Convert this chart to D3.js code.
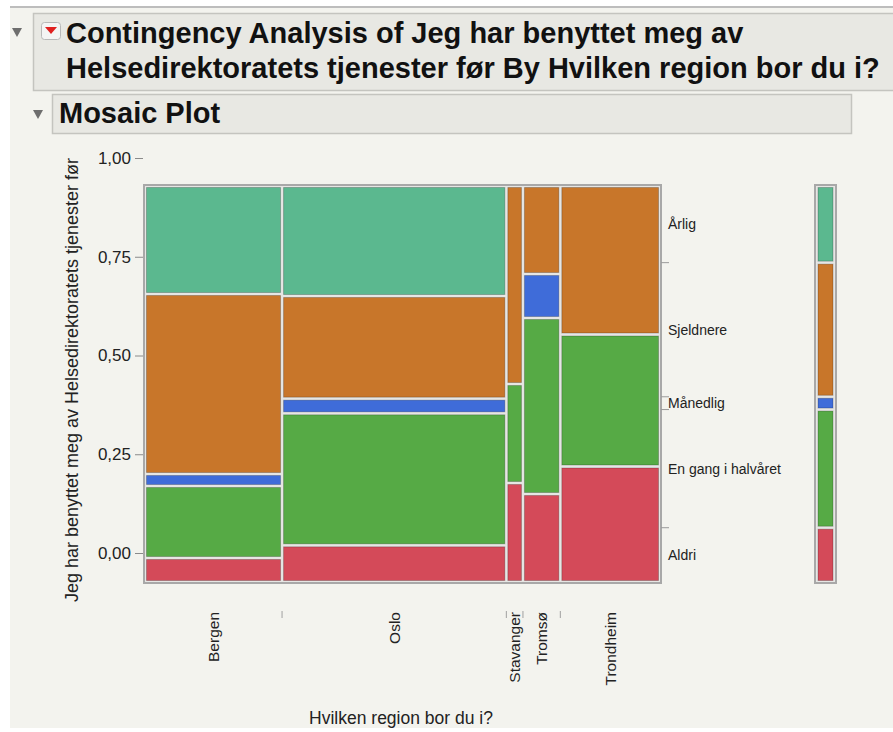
<!DOCTYPE html>
<html>
<head>
<meta charset="utf-8">
<script src="https://cdn.jsdelivr.net/npm/d3@7"></script>
<style>
  body { margin: 0; background: #ffffff; }
  text { font-family: "Liberation Sans", Arial, Helvetica, sans-serif; }
</style>
</head>
<body>
<div id="chart"></div>
<script>
//-------------------------------------
// data (counts read from the mosaic)
//-------------------------------------
var regions = ["Bergen", "Oslo", "Stavanger", "Tromsø", "Trondheim"];
// response levels, bottom to top
var levels = ["Aldri", "En gang i halvåret", "Månedlig", "Sjeldnere", "Årlig"];
var levelColors = ["#d44a59", "#56aa45", "#3f6cd9", "#c8762a", "#5bb88f"];

var aldri      = [2, 5, 1, 2, 7];
var halvaaret  = [6, 18, 1, 4, 8];
var maanedlig  = [1, 2, 0, 1, 0];
var sjeldnere  = [15, 14, 2, 2, 9];
var aarlig     = [9, 15, 0, 0, 0];

var yTicks = [0, 0.25, 0.5, 0.75, 1];

var counts = [aldri, halvaaret, maanedlig, sjeldnere, aarlig];

//-------------------------------------
// field
//-------------------------------------
var width = 893;
var height = 732;

var svg = d3.select("#chart")
  .append("svg")
  .attr("width", width)
  .attr("height", height);

// panel background
svg.append("rect")
  .attr("x", 10).attr("y", 7)
  .attr("width", width - 10).attr("height", 721)
  .style("fill", "#f3f3ee");
svg.append("line")
  .attr("x1", 10).attr("x2", width)
  .attr("y1", 7).attr("y2", 7)
  .style("stroke", "#bdbdbd").style("stroke-width", 2);

// header boxes
function headerBox(x, y, w, h) {
  svg.append("rect")
    .attr("x", x + 0.5).attr("y", y + 0.5)
    .attr("width", w).attr("height", h)
    .style("fill", "#e8e8e3")
    .style("stroke", "#c4c4bf")
    .style("stroke-width", 1.5);
}
function triangle(cx, cy) {
  svg.append("path")
    .attr("d", "M" + (cx - 5) + "," + (cy - 4) + "L" + (cx + 5) + "," + (cy - 4) + "L" + cx + "," + (cy + 5) + "Z")
    .style("fill", "#6e6e6e");
}

headerBox(33, 13, 880, 77);
triangle(17, 32);
svg.append("rect")
  .attr("x", 41.5).attr("y", 22.5).attr("width", 19).attr("height", 17).attr("rx", 3)
  .style("fill", "#f4f4f4").style("stroke", "#b8b8b8");
svg.append("path")
  .attr("d", "M45,27L57,27L51,34Z")
  .style("fill", "#e02020");

svg.append("text")
  .attr("x", 66).attr("y", 43)
  .style("font-size", "29px").style("font-weight", "bold").style("fill", "#111")
  .text("Contingency Analysis of Jeg har benyttet meg av");
svg.append("text")
  .attr("x", 66).attr("y", 78)
  .style("font-size", "29px").style("font-weight", "bold").style("fill", "#111")
  .text("Helsedirektoratets tjenester før By Hvilken region bor du i?");

headerBox(52, 94, 799, 39);
triangle(38, 114);
svg.append("text")
  .attr("x", 59).attr("y", 123)
  .style("font-size", "29px").style("font-weight", "bold").style("fill", "#111")
  .text("Mosaic Plot");

//-------------------------------------
// scales
//-------------------------------------
var totals = regions.map(function(r, i) {
  return d3.sum(counts, function(c) { return c[i]; });
});
var N = d3.sum(totals);
var xStart = d3.cumsum([0].concat(totals));

var x = d3.scaleLinear().domain([0, N]).range([145, 660]);
var y = d3.scaleLinear().domain([0, 1]).range([582, 186]);
// JMP's left axis is drawn shifted against the tiles
var yAxisScale = d3.scaleLinear().domain([0, 1]).range([553, 158]);

//-------------------------------------
// mosaic
//-------------------------------------
svg.append("rect")
  .attr("x", x(0) - 1).attr("y", y(1) - 1)
  .attr("width", x(N) - x(0) + 2).attr("height", y(0) - y(1) + 2)
  .style("fill", "#e6e6e4")
  .style("stroke", "#a8a8a8")
  .style("stroke-width", 2);

var cells = [];
regions.forEach(function(r, i) {
  var acc = 0;
  levels.forEach(function(l, j) {
    var p = counts[j][i] / totals[i];
    if (p > 0) {
      cells.push({ x0: xStart[i], x1: xStart[i + 1], p0: acc, p1: acc + p, color: levelColors[j] });
    }
    acc += p;
  });
});

svg.append("g").selectAll("rect")
  .data(cells)
  .enter()
  .append("rect")
  .attr("x", function(d) { return x(d.x0) + 1.5; })
  .attr("width", function(d) { return x(d.x1) - x(d.x0) - 3; })
  .attr("y", function(d) { return y(d.p1) + 1.5; })
  .attr("height", function(d) { return y(d.p0) - y(d.p1) - 3; })
  .style("fill", function(d) { return d.color; })
  .style("stroke", "rgba(0,0,0,0.22)")
  .style("stroke-width", 1);

// marginal bar on the right
var margTotals = counts.map(function(c) { return d3.sum(c); });
var margStart = d3.cumsum([0].concat(margTotals)).map(function(v) { return v / N; });

svg.append("rect")
  .attr("x", 815).attr("y", y(1) - 1)
  .attr("width", 21).attr("height", y(0) - y(1) + 2)
  .style("fill", "#e6e6e4")
  .style("stroke", "#a8a8a8")
  .style("stroke-width", 2);

svg.append("g").selectAll("rect")
  .data(levels)
  .enter()
  .append("rect")
  .attr("x", 818)
  .attr("width", 15)
  .attr("y", function(d, j) { return y(margStart[j + 1]) + 1.5; })
  .attr("height", function(d, j) { return y(margStart[j]) - y(margStart[j + 1]) - 3; })
  .style("fill", function(d, j) { return levelColors[j]; })
  .style("stroke", "rgba(0,0,0,0.22)")
  .style("stroke-width", 1);

//-------------------------------------
// axes
//-------------------------------------
var yAxis = svg.append("g")
  .attr("transform", "translate(143,0)")
  .call(d3.axisLeft(yAxisScale)
    .tickValues(yTicks)
    .tickSize(8)
    .tickPadding(4)
    .tickFormat(function(d) { return d3.format(".2f")(d).replace(".", ","); }));
yAxis.select(".domain").remove();
yAxis.selectAll("line").style("stroke", "#8a8a8a");
yAxis.selectAll("text")
  .style("font-family", "'Liberation Sans', Arial, sans-serif")
  .style("font-size", "17px")
  .style("fill", "#222");

// right labels (marginal midpoints) and boundary ticks
svg.append("g").selectAll("line")
  .data(margStart.slice(1, -1))
  .enter()
  .append("line")
  .attr("x1", 661).attr("x2", 669)
  .attr("y1", function(d) { return y(d); })
  .attr("y2", function(d) { return y(d); })
  .style("stroke", "#9a9a9a");

svg.append("g").selectAll("text")
  .data(levels)
  .enter()
  .append("text")
  .attr("x", 668)
  .attr("y", function(d, j) { return y((margStart[j] + margStart[j + 1]) / 2); })
  .attr("dy", "0.35em")
  .style("font-size", "14px")
  .style("fill", "#222")
  .text(function(d) { return d; });

// bottom: boundary ticks and rotated region names
svg.append("g").selectAll("line")
  .data(xStart.slice(1, -1))
  .enter()
  .append("line")
  .attr("x1", function(d) { return x(d); })
  .attr("x2", function(d) { return x(d); })
  .attr("y1", 611).attr("y2", 618)
  .style("stroke", "#a0a0a0");

svg.append("g").selectAll("text")
  .data(regions)
  .enter()
  .append("text")
  .attr("transform", function(d, i) {
    return "translate(" + x((xStart[i] + xStart[i + 1]) / 2) + ",612) rotate(-90)";
  })
  .attr("dy", "0.35em")
  .style("text-anchor", "end")
  .style("font-size", "15.5px")
  .style("fill", "#222")
  .text(function(d) { return d; });

// axis titles
svg.append("text")
  .attr("x", 401).attr("y", 724)
  .style("text-anchor", "middle")
  .style("font-size", "17.5px")
  .style("fill", "#222")
  .text("Hvilken region bor du i?");

svg.append("text")
  .attr("transform", "translate(78,380) rotate(-90)")
  .style("text-anchor", "middle")
  .style("font-size", "18px")
  .style("fill", "#222")
  .text("Jeg har benyttet meg av Helsedirektoratets tjenester før");
</script>
</body>
</html>
